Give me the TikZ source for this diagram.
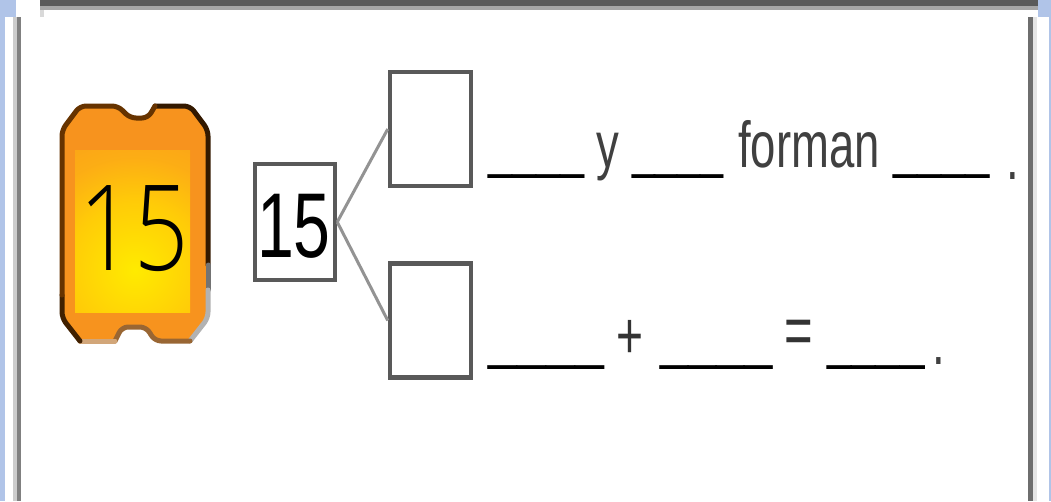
\documentclass[tikz,border=0pt]{standalone}
\usepackage{fontspec}
\setmainfont{Liberation Sans}
\newfontfamily\thinfont{Open Sans Light}
\usetikzlibrary{calc}
\definecolor{edgegray}{HTML}{595959}
\definecolor{framedark}{HTML}{5A5A5A}
\definecolor{framemid}{HTML}{A6A6A6}
\definecolor{frameblue}{HTML}{B0C4E8}
\definecolor{ticketorange}{HTML}{F7931E}
\pgfdeclareradialshading{ticketglow}{\pgfpoint{0bp}{0bp}}{rgb(0bp)=(1,0.92,0);rgb(12bp)=(1,0.80,0.03);rgb(20bp)=(0.99,0.68,0.08);rgb(35bp)=(0.97,0.58,0.11);rgb(48bp)=(0.95,0.40,0.13);rgb(50bp)=(0.95,0.40,0.13)}
\tikzset{
  x=1pt,y=-1pt,
  numbox/.style={draw=edgegray,line width=4.5pt,fill=white,inner sep=0pt,minimum width=#1},
  link/.style={draw=gray!85,line width=3pt},
  word/.style={inner sep=0pt,anchor=base west,font=\fontsize{65}{65}\selectfont,text=black!75},
  signtext/.style={inner sep=0pt,anchor=center,text=black!80},
  blank/.style={inner sep=0pt,anchor=center},
  rim/.style={line width=5pt,line cap=round,line join=round,rounded corners=6pt},
}
\newcommand{\squeezed}[1]{\scalebox{0.7}[1]{#1}}
\newcommand{\blankline}[1]{\resizebox*{#1pt}{12pt}{\_\_\_\_}}
\begin{document}
\begin{tikzpicture}
\useasboundingbox (0,0) rectangle (1051,501);
% window frame
\fill[white] (0,0) rectangle (1051,501);
\fill[frameblue] (0,0) rectangle (16,17);
\fill[frameblue] (0,17) rectangle (5,501);
\fill[black!20] (13,17) rectangle (17,501);
\fill[gray] (17,17) rectangle (21,501);
\fill[framedark] (40,0) rectangle (1038,6);
\fill[framemid] (40,6) rectangle (1038,10);
\fill[black!15] (40,10) rectangle (44,17);
\fill[frameblue] (1038,0) rectangle (1051,17);
\fill[frameblue] (1049,17) rectangle (1051,501);
\fill[black!57] (1028,17) rectangle (1033,501);
\fill[black!10] (1033,17) rectangle (1037,501);
% ticket
\fill[ticketorange,rounded corners=6pt] (80,106) -- (118,106) -- (130,118) -- (148,118) -- (155,106) -- (190,106) -- (208,130) -- (208,318) -- (190,341) -- (155,341) -- (146,327) -- (122,327) -- (115,341) -- (80,341) -- (62,318) -- (62,130) -- cycle;
\draw[rim,color=black!80!orange] (155,106) -- (190,106) -- (208,130) -- (208,265);
\draw[rim,color=black!55] (208,265) -- (208,290);
\draw[rim,color=black!30] (208,290) -- (208,318) -- (190,341);
\draw[rim,color=brown!80!black] (190,341) -- (155,341) -- (146,327) -- (122,327) -- (115,341);
\draw[rim,color=brown!70!white] (115,341) -- (80,341);
\draw[rim,color=black!75!orange] (80,341) -- (62,318) -- (62,295);
\draw[rim,color=black!60!orange] (62,295) -- (62,130) -- (80,106) -- (118,106) -- (130,118) -- (148,118) -- (155,106);
\begin{scope}
\clip (75,150) rectangle (190,312);
\shade[shading=ticketglow] (135,270) circle[radius=140];
\end{scope}
\node[inner sep=0pt,anchor=base] (ticketnum) at (134,270) {\thinfont\fontsize{119}{119}\selectfont\scalebox{0.8}[1]{15}};
% number bond
\node[numbox=80pt,minimum height=116pt] (whole) at (295,222) {};
\node[numbox=81pt,minimum height=114pt] (upper) at (430.5,129) {};
\node[numbox=81pt,minimum height=114pt] (lower) at (430.5,320.5) {};
\draw[link] (whole.east) -- (upper.west);
\draw[link] (whole.east) -- (lower.west);
\node[inner sep=0pt,anchor=base] (wholenum) at (294,257) {\fontsize{92}{92}\selectfont\scalebox{0.72}[1]{15}};
% first sentence
\node[blank] (b1) at (537,172) {\blankline{96}};
\node[word] (y1) at (596,167) {\squeezed{y}};
\node[blank] (b2) at (678,172) {\blankline{92}};
\node[word] (forman) at (738,167) {\squeezed{forman}};
\node[blank] (b3) at (941.5,172) {\blankline{97}};
\node[word] (dot1) at (1006,179) {\squeezed{.}};
% second sentence
\node[blank] (b4) at (546.5,363.5) {\blankline{115}};
\node[signtext] (plus) at (630,339) {\fontsize{66}{66}\selectfont\squeezed{+}};
\node[blank] (b5) at (716.5,363.5) {\blankline{113}};
\node[signtext] (equals) at (798.5,337.5) {\fontsize{70}{70}\selectfont\squeezed{=}};
\node[blank] (b6) at (876,363.5) {\blankline{98}};
\node[word] (dot2) at (932,364) {\squeezed{.}};
\end{tikzpicture}
\end{document}
